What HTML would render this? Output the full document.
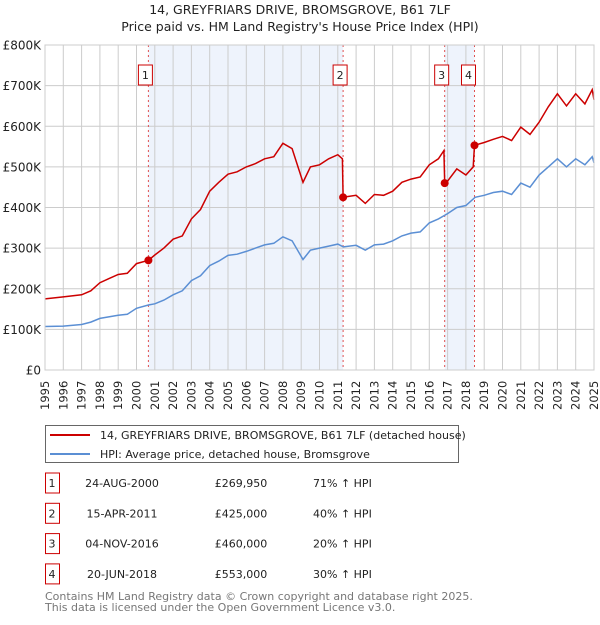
<!DOCTYPE html>
<html><head><meta charset="utf-8"><style>
body{margin:0;background:#fff;font-family:"Liberation Sans","DejaVu Sans",sans-serif;}
svg text{font-family:"DejaVu Sans","Liberation Sans",sans-serif;}
</style></head><body>
<svg width="600" height="620" xmlns="http://www.w3.org/2000/svg">
<text x="300" y="14" text-anchor="middle" font-size="12.5" fill="#222">14, GREYFRIARS DRIVE, BROMSGROVE, B61 7LF</text>
<text x="300" y="31" text-anchor="middle" font-size="12.5" fill="#222">Price paid vs. HM Land Registry's House Price Index (HPI)</text>
<g id="plot"></g>
<g>
<rect x="45.5" y="425.5" width="413" height="37" fill="#fff" stroke="#666"/>
<line x1="50" y1="435" x2="90" y2="435" stroke="#cc0000" stroke-width="2"/>
<text x="100" y="439" font-size="11" fill="#222">14, GREYFRIARS DRIVE, BROMSGROVE, B61 7LF (detached house)</text>
<line x1="50" y1="454" x2="90" y2="454" stroke="#5b8fd4" stroke-width="2"/>
<text x="100" y="458" font-size="11" fill="#222">HPI: Average price, detached house, Bromsgrove</text>
</g>
<g id="table" font-size="11" fill="#222"></g>
<text x="45" y="600" font-size="11" fill="#777">Contains HM Land Registry data © Crown copyright and database right 2025.</text>
<text x="45" y="611" font-size="11" fill="#777">This data is licensed under the Open Government Licence v3.0.</text>
</svg>
<script>
const hpiYears=[1995,1996,1997,1997.5,1998,1999,1999.5,2000,2000.65,2001,2001.5,2002,2002.5,2003,2003.5,2004,2004.5,2005,2005.5,2006,2006.5,2007,2007.5,2008,2008.5,2009.1,2009.5,2010,2010.5,2011,2011.3,2012,2012.5,2013,2013.5,2014,2014.5,2015,2015.5,2016,2016.5,2017,2017.5,2018,2018.5,2019,2019.5,2020,2020.5,2021,2021.5,2022,2022.5,2023,2023.5,2024,2024.5,2024.9,2025];
const hpiValues=[107,108,112,118,127,135,137,152,160,163,172,185,195,220,232,257,268,282,285,292,300,308,312,328,318,272,295,300,305,310,303,307,295,308,310,318,330,337,340,362,372,385,400,405,425,430,437,440,432,460,450,480,500,520,500,520,505,525,510];
const propYears=[1995,1996,1997,1997.5,1998,1998.5,1999,1999.5,2000,2000.65,2001,2001.5,2002,2002.5,2003,2003.5,2004,2004.5,2005,2005.5,2006,2006.5,2007,2007.5,2008,2008.5,2009.1,2009.5,2010,2010.5,2011,2011.25,2011.29,2012,2012.5,2013,2013.5,2014,2014.5,2015,2015.5,2016,2016.5,2016.8,2016.84,2017,2017.5,2018,2018.4,2018.47,2019,2019.5,2020,2020.5,2021,2021.5,2022,2022.5,2023,2023.5,2024,2024.5,2024.9,2025];
const propValues=[175,180,185,195,215,225,235,238,262,270,283,300,322,330,372,395,440,462,482,488,500,508,520,525,558,545,462,500,505,520,530,520,425,430,410,432,430,440,462,470,475,505,520,540,460,465,495,480,500,553,560,568,575,565,598,580,610,648,680,650,680,655,690,665];
const saleLabels=["1","2","3","4"];
const saleYears=[2000.65,2011.29,2016.84,2018.47];
const saleValues=[269.95,425,460,553];
const saleDates=["24-AUG-2000","15-APR-2011","04-NOV-2016","20-JUN-2018"];
const salePrices=["£269,950","£425,000","£460,000","£553,000"];
const saleHpi=["71% ↑ HPI","40% ↑ HPI","20% ↑ HPI","30% ↑ HPI"];
const yTicks=[0,100,200,300,400,500,600,700,800];
const yTickLabels=["£0","£100K","£200K","£300K","£400K","£500K","£600K","£700K","£800K"];
const xTicks=[1995,1996,1997,1998,1999,2000,2001,2002,2003,2004,2005,2006,2007,2008,2009,2010,2011,2012,2013,2014,2015,2016,2017,2018,2019,2020,2021,2022,2023,2024,2025];

const NS="http://www.w3.org/2000/svg";
const L=45,R=594,T=45,B=370;
const xs=y=>L+(y-1995)/30*(R-L);
const ys=v=>B-v/800*(B-T);
const plot=document.getElementById('plot');
function mk(tag,attrs,parent){const e=document.createElementNS(NS,tag);for(const k in attrs)e.setAttribute(k,attrs[k]);(parent||plot).appendChild(e);return e;}
for(const [a,b] of [[0,1],[2,3]]){
 const r=mk('rect',{x:xs(saleYears[a]),y:T,width:xs(saleYears[b])-xs(saleYears[a]),height:B-T,fill:'#eef3fc'});
 
 
}
xTicks.forEach(t=>{
 const l=mk('line',{x1:xs(t),x2:xs(t),y1:T,y2:B,stroke:'#ccc','stroke-width':1});
 
 
 const tx=mk('text',{x:0,y:0,transform:`translate(${xs(t)+4},${B+40}) rotate(-90)`,'font-size':11.5,fill:'#222'});
 tx.textContent=t;
 
 
});
yTicks.forEach((t,i)=>{
 const l=mk('line',{x1:L,x2:R,y1:ys(t),y2:ys(t),stroke:'#ccc','stroke-width':1});
 
 
 const tx=mk('text',{x:L-4,y:ys(t)+4.5,'text-anchor':'end','font-size':12,fill:'#222'});
 tx.textContent=yTickLabels[i];
 
 
});
saleYears.forEach((y,i)=>{
 const l=mk('line',{x1:xs(y),x2:xs(y),y1:T,y2:B,stroke:'#e05050','stroke-width':1,'stroke-dasharray':'2,3'});
 
 
});
const path=(xv,yv)=>xv.map((x,i)=>(i?'L':'M')+xs(x).toFixed(1)+','+ys(yv[i]).toFixed(1)).join('');
const hp=mk('path',{d:path(hpiYears,hpiValues),fill:'none',stroke:'#5b8fd4','stroke-width':1.5});


const pp=mk('path',{d:path(propYears,propValues),fill:'none',stroke:'#cc0000','stroke-width':1.5});


saleYears.forEach((y,i)=>{
 const c=mk('circle',{cx:xs(y),cy:ys(saleValues[i]),r:4,fill:'#cc0000'});
 
 
 const bx=xs(y)-(i===3?6:3);
 const r=mk('rect',{x:bx-7,y:65,width:14,height:20,fill:'#fff',stroke:'#cc0000'});
 
 
 const t=mk('text',{x:bx,y:79,'text-anchor':'middle','font-size':11,fill:'#222'});
 t.textContent=saleLabels[i];
 
 
});
mk('rect',{x:L,y:T,width:R-L,height:B-T,fill:'none',stroke:'#ccc'});
const tb=document.getElementById('table');
saleLabels.forEach((s,i)=>{
 const yy=483+i*30.3;
 const r=mk('rect',{x:45.5,y:yy-10,width:14,height:20,fill:'#fff',stroke:'#cc0000'},tb);
 
 
 const cols=[[52,s,'middle'],[122,saleDates[i],'middle'],[241,salePrices[i],'middle'],[313,saleHpi[i],'start']];
 cols.forEach(([x,txt,a],j)=>{
  const t=mk('text',{x:x,y:yy+4,'text-anchor':a},tb);
  t.textContent=txt;
  
  
 });
});
</script>
</body></html>
